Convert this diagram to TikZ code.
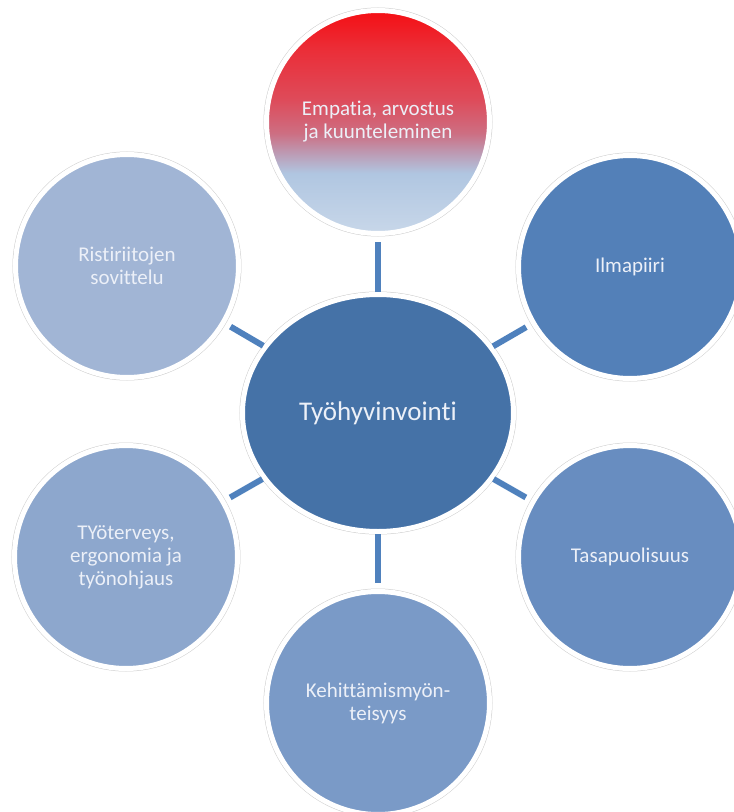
\documentclass[tikz,border=0pt]{standalone}
\usepackage{fontspec}
\setmainfont{Carlito}[Ligatures={NoCommon,NoRequired,NoContextual}]
\usepackage{tikz}
\usetikzlibrary{positioning,shapes.geometric}

\definecolor{hubblue}{RGB}{69,114,167}
\definecolor{linkblue}{RGB}{79,129,189}
\definecolor{ilmablue}{RGB}{83,128,184}
\definecolor{tasablue}{RGB}{104,141,192}
\definecolor{kehblue}{RGB}{122,154,199}
\definecolor{tyotblue}{RGB}{141,167,205}
\definecolor{ristblue}{RGB}{161,181,213}
\definecolor{txtwhite}{RGB}{236,240,248}
\definecolor{ringgray}{RGB}{205,205,205}

\pgfdeclareverticalshading{empshade}{100bp}{%
  color(0bp)=(rgb,255:red,200;green,215;blue,233);
  color(25bp)=(rgb,255:red,200;green,215;blue,233);
  color(38.5bp)=(rgb,255:red,176;green,198;blue,225);
  color(43.5bp)=(rgb,255:red,190;green,150;blue,175);
  color(47.5bp)=(rgb,255:red,205;green,110;blue,130);
  color(55bp)=(rgb,255:red,222;green,75;blue,90);
  color(66.5bp)=(rgb,255:red,235;green,45;blue,55);
  color(75bp)=(rgb,255:red,245;green,15;blue,20);
  color(100bp)=(rgb,255:red,245;green,15;blue,20)}

\tikzset{
  ring/.style={draw=white, line width=5pt,
    preaction={draw=ringgray, line width=6pt}},
  hub/.style={ellipse, ring, fill=hubblue, inner sep=0pt,
    minimum width=271pt, minimum height=237pt, text=txtwhite,
    font=\fontsize{27}{32}\selectfont},
  sat/.style={circle, ring, inner sep=0pt, minimum size=223pt,
    text=txtwhite, align=center, font=\fontsize{21}{23}\selectfont},
  link/.style={draw=linkblue, line width=6pt, shorten >=6pt}
}

\begin{document}
\begin{tikzpicture}[x=1pt,y=1pt,node distance=291pt,on grid]
   \useasboundingbox (-378,-399) rectangle (356,413);
   \node[hub] (tyo) at (0,0) {Työhyvinvointi};
   \node[sat, shading=empshade] (emp) [above=of tyo] {Empatia, arvostus\\ja kuunteleminen};
   \node[sat, fill=ilmablue] (ilma) [above right=146pt and 252pt of tyo] {Ilmapiiri};
   \node[sat, fill=tasablue] (tasa) [below right=144pt and 252pt of tyo] {Tasapuolisuus};
   \node[sat, fill=kehblue] (keh) [below=290pt of tyo] {Kehittämismyön-\\teisyys};
   \node[sat, fill=tyotblue] (tyot) [below left=144pt and 252pt of tyo] {TYöterveys,\\ergonomia ja\\työnohjaus};
   \node[sat, fill=ristblue] (rist) [above left=147pt and 251pt of tyo] {Ristiriitojen\\sovittelu};
    \path[link]
    (tyo) edge (emp)
    (tyo) edge (ilma)
    (tyo) edge (tasa)
    (tyo) edge (keh)
    (tyo) edge (tyot)
    (tyo) edge (rist);
\end{tikzpicture}
\end{document}
